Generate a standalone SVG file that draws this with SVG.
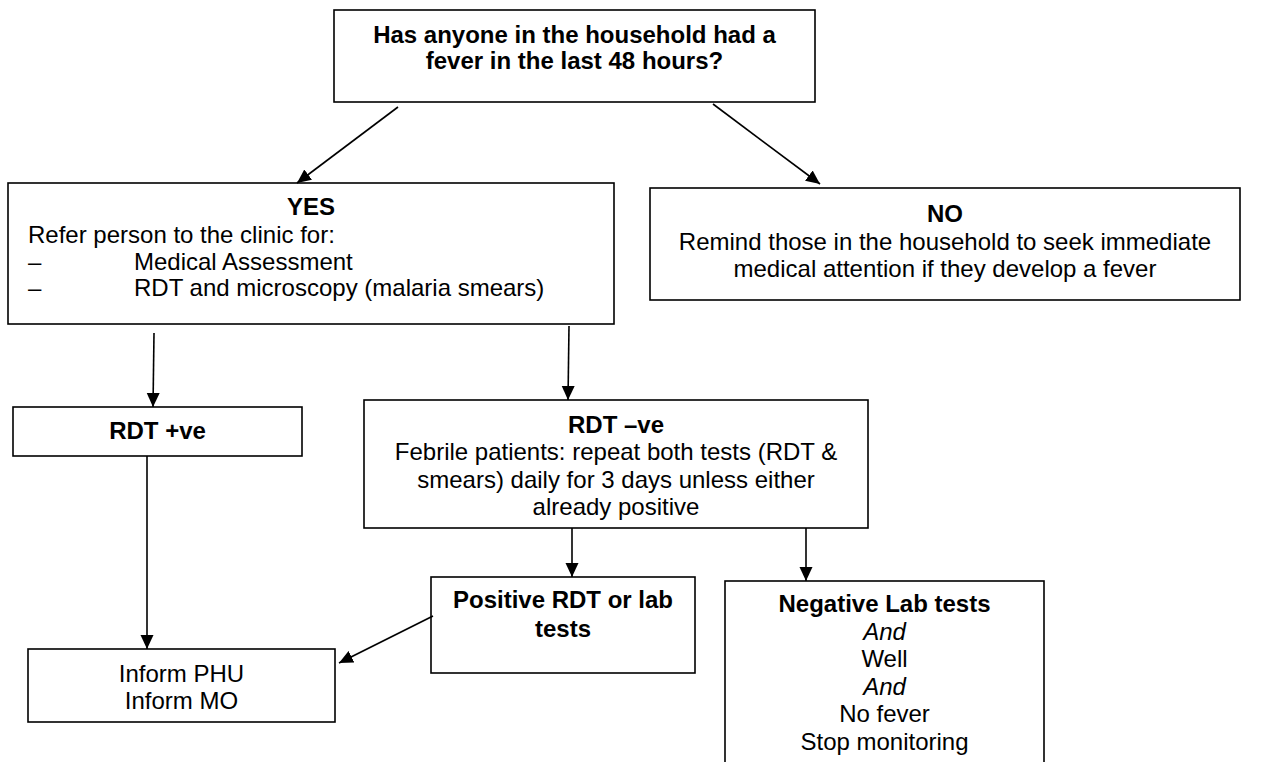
<svg xmlns="http://www.w3.org/2000/svg" width="1262" height="762" viewBox="0 0 1262 762">
<style>
rect.box{fill:#fff;stroke:#000;stroke-width:1.6}
text{font-family:"Liberation Sans",Arial,sans-serif;font-size:24px;fill:#000}
.b{font-weight:bold}
.c{text-anchor:middle}
.i{font-style:italic}
.conn line{stroke:#000;stroke-width:1.6;marker-end:url(#ah)}
</style>
<defs>
<marker id="ah" viewBox="0 0 14 14" refX="14" refY="7" markerWidth="14" markerHeight="14" orient="auto" markerUnits="userSpaceOnUse"><path d="M0,0.5 L14,7 L0,13.5 z" fill="#000"/></marker>
</defs>
<rect width="1262" height="762" fill="#fff"/>
<g id="q">
<rect class="box" x="334" y="10" width="481" height="92"/>
<text class="b c" x="574.5" y="43">Has anyone in the household had a</text>
<text class="b c" x="574.5" y="69">fever in the last 48 hours?</text>
</g>
<g id="yes">
<rect class="box" x="8" y="183" width="606" height="141"/>
<text class="b c" x="311" y="215">YES</text>
<text x="28" y="243">Refer person to the clinic for:</text>
<text x="28" y="270">–</text>
<text x="134" y="270">Medical Assessment</text>
<text x="28" y="296">–</text>
<text x="134" y="296">RDT and microscopy (malaria smears)</text>
</g>
<g id="no">
<rect class="box" x="650" y="188" width="590" height="112"/>
<text class="b c" x="945" y="222">NO</text>
<text class="c" x="945" y="250">Remind those in the household to seek immediate</text>
<text class="c" x="945" y="277">medical attention if they develop a fever</text>
</g>
<g id="rdtpos">
<rect class="box" x="13" y="407" width="289" height="49"/>
<text class="b c" x="157.5" y="439">RDT +ve</text>
</g>
<g id="rdtneg">
<rect class="box" x="364" y="400" width="504" height="128"/>
<text class="b c" x="616" y="433">RDT –ve</text>
<text class="c" x="616" y="460">Febrile patients: repeat both tests (RDT &amp;</text>
<text class="c" x="616" y="488">smears) daily for 3 days unless either</text>
<text class="c" x="616" y="515">already positive</text>
</g>
<g id="positive">
<rect class="box" x="431" y="577" width="264" height="96"/>
<text class="b c" x="563" y="608">Positive RDT or lab</text>
<text class="b c" x="563" y="637">tests</text>
</g>
<g id="inform">
<rect class="box" x="28" y="649" width="307" height="73"/>
<text class="c" x="181.5" y="682">Inform PHU</text>
<text class="c" x="181.5" y="709">Inform MO</text>
</g>
<g id="negative">
<rect class="box" x="725" y="581" width="319" height="200"/>
<text class="b c" x="884.5" y="612">Negative Lab tests</text>
<text class="i c" x="884.5" y="640">And</text>
<text class="c" x="884.5" y="667">Well</text>
<text class="i c" x="884.5" y="695">And</text>
<text class="c" x="884.5" y="722">No fever</text>
<text class="c" x="884.5" y="750">Stop monitoring</text>
</g>
<g id="connectors" class="conn">
<line x1="398" y1="107" x2="297" y2="183"/>
<line x1="713" y1="104" x2="820" y2="184"/>
<line x1="154" y1="333" x2="153" y2="407"/>
<line x1="569" y1="326" x2="568" y2="400"/>
<line x1="147" y1="456" x2="147" y2="649"/>
<line x1="572" y1="528" x2="572" y2="577"/>
<line x1="806" y1="528" x2="806" y2="581"/>
<line x1="433" y1="616" x2="339" y2="663"/>
</g>
</svg>
